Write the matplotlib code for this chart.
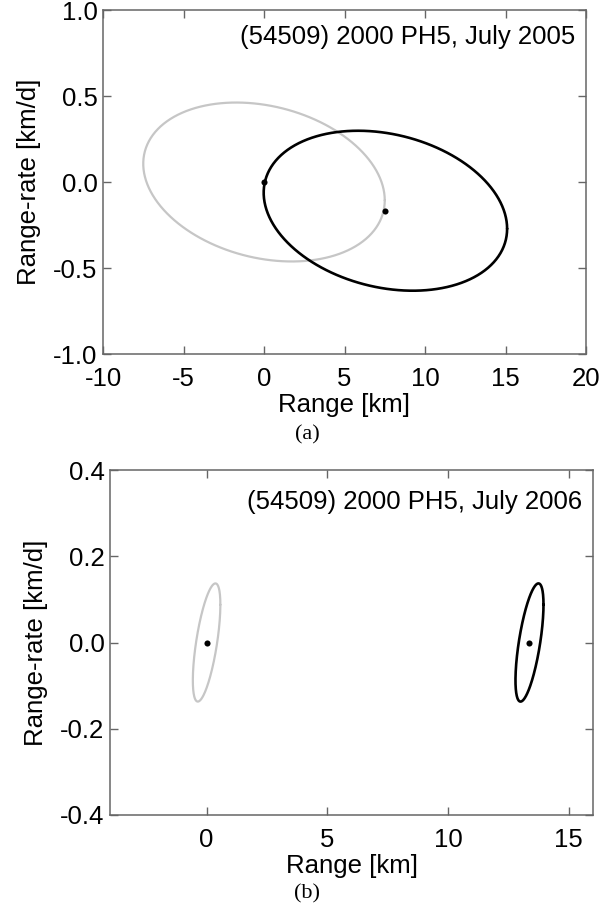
import numpy as np
import matplotlib
matplotlib.use("Agg")
import matplotlib.pyplot as plt
from matplotlib.ticker import FixedLocator, FixedFormatter

plt.rcParams['font.family'] = ['Liberation Sans', 'DejaVu Sans']

# ---- data ----
# Panel (a): July 2005 uncertainty ellipses: centre x, centre y, x half-width, y half-height, correlation
a_titles = "(54509) 2000 PH5, July 2005"
a_centers_x = [0.0, 7.54]
a_centers_y = [0.0, -0.167]
a_half_x = [7.50, 7.56]
a_half_y = [0.462, 0.465]
a_corr = [-0.23, -0.225]
a_colors = ["#c6c6c6", "#000000"]
a_dots_x = [0.0, 7.54]
a_dots_y = [0.0, -0.167]
a_xticks = [-10, -5, 0, 5, 10, 15, 20]
a_yticks = [-1.0, -0.5, 0.0, 0.5, 1.0]
a_xlabels = ["-10", "-5", "0", "5", "10", "15", "20"]
a_ylabels = ["-1.0", "-0.5", "0.0", "0.5", "1.0"]

# Panel (b): July 2006
b_titles = "(54509) 2000 PH5, July 2006"
b_centers_x = [0.0, 13.37]
b_centers_y = [0.0, 0.0]
b_half_x = [0.57, 0.58]
b_half_y = [0.137, 0.137]
b_corr = [0.64, 0.64]
b_colors = ["#c6c6c6", "#000000"]
b_dots_x = [0.0, 13.37]
b_dots_y = [0.0, 0.0]
b_xticks = [0, 5, 10, 15]
b_yticks = [-0.4, -0.2, 0.0, 0.2, 0.4]
b_xlabels = ["0", "5", "10", "15"]
b_ylabels = ["-0.4", "-0.2", "0.0", "0.2", "0.4"]

SPINE = "#666666"
FS = 18.5


def ellipse(cx, cy, hx, hy, rho, n=400):
    t = np.linspace(0, 2 * np.pi, n)
    x = cx + hx * np.cos(t)
    y = cy + hy * (rho * np.cos(t) + np.sqrt(1 - rho ** 2) * np.sin(t))
    return x, y


def panel(ax, title, cxs, cys, hxs, hys, rhos, cols, dx, dy,
          xt, xl, yt, yl, xlim, ylim, title_y):
    for cx, cy, hx, hy, r, c in zip(cxs, cys, hxs, hys, rhos, cols):
        x, y = ellipse(cx, cy, hx, hy, r)
        lw = 1.6 if c != "#000000" else 1.9
        ax.plot(x, y, color=c, lw=lw, solid_capstyle='round')
    ax.plot(dx, dy, 'o', color='black', ms=4.4, mec='black', mew=0)
    ax.set_xlim(*xlim)
    ax.set_ylim(*ylim)
    ax.xaxis.set_major_locator(FixedLocator(xt))
    ax.xaxis.set_major_formatter(FixedFormatter(xl))
    ax.yaxis.set_major_locator(FixedLocator(yt))
    ax.yaxis.set_major_formatter(FixedFormatter(yl))
    ax.tick_params(direction='in', length=6, width=1.0, color=SPINE,
                   top=True, right=True, labelsize=FS)
    ax.tick_params(axis='x', pad=9.5)
    ax.tick_params(axis='y', pad=4)
    for s in ax.spines.values():
        s.set_color(SPINE)
        s.set_linewidth(1.1)
    ax.set_xlabel("Range [km]", fontsize=FS, labelpad=1)
    ax.set_ylabel("Range-rate [km/d]", fontsize=FS, labelpad=9)
    ax.text(0.977, title_y, title, transform=ax.transAxes, ha='right',
            va='center', fontsize=FS)


fig = plt.figure(figsize=(6.13, 9.11), dpi=100)
ax1 = fig.add_axes([103 / 613, 1 - 354 / 911, 483 / 613, 344 / 911])
ax2 = fig.add_axes([110 / 613, 1 - 815 / 911, 483 / 613, 345 / 911])

panel(ax1, a_titles, a_centers_x, a_centers_y, a_half_x, a_half_y, a_corr,
      a_colors, a_dots_x, a_dots_y, a_xticks, a_xlabels, a_yticks, a_ylabels,
      (-10, 20), (-1.0, 1.0), 0.922)
panel(ax2, b_titles, b_centers_x, b_centers_y, b_half_x, b_half_y, b_corr,
      b_colors, b_dots_x, b_dots_y, b_xticks, b_xlabels, b_yticks, b_ylabels,
      (-4, 16), (-0.4, 0.4), 0.908)

fig.text(307 / 613, 1 - 435 / 911, "(a)", ha='center', va='center',
         fontsize=16, family=['Liberation Serif', 'DejaVu Serif'])
fig.text(307 / 613, 1 - 894 / 911, "(b)", ha='center', va='center',
         fontsize=16, family=['Liberation Serif', 'DejaVu Serif'])

fig.savefig("out.png", dpi=100)
